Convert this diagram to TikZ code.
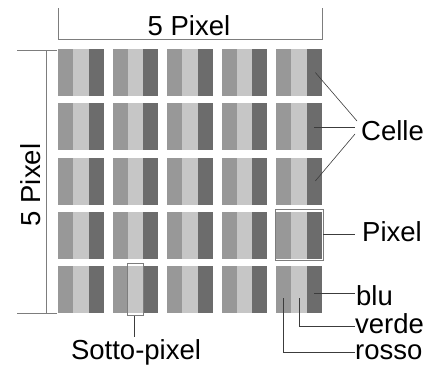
\documentclass[tikz,border=0pt]{standalone}
\usepackage{fontspec}
\setmainfont{Liberation Sans}
\usetikzlibrary{calc}
\definecolor{spred}{RGB}{152,152,152}
\definecolor{spgreen}{RGB}{198,198,198}
\definecolor{spblue}{RGB}{108,108,108}
\definecolor{dimline}{RGB}{125,125,125}
\definecolor{leadline}{RGB}{60,60,60}
\tikzset{
  sub/.style={
    draw=none, inner sep=0pt, outer sep=0pt,
    minimum width=15.33pt, minimum height=47pt
  },
  subr/.style={sub, fill=spred},
  subg/.style={sub, fill=spgreen},
  subb/.style={sub, fill=spblue},
  hibox/.style={draw=dimline, line width=0.7pt, inner sep=0pt, fill=none},
  dim/.style={draw=dimline, line width=0.8pt},
  lead/.style={draw=leadline, line width=0.6pt},
  lbl/.style={font=\fontsize{27.5}{31}\selectfont, inner sep=0pt}
}
\begin{document}
\begin{tikzpicture}[x=1pt, y=-1pt]
  \useasboundingbox (0,0) rectangle (444,367);
  % 5 x 5 pixel, each made of three sub-pixels
  \foreach \i in {0,...,4}{
    \foreach \j in {0,...,4}{
      \node[subr, anchor=north west] (r-\i-\j) at ({58+54.5*\i},{49+54.25*\j}) {};
      \node[subg, anchor=west] (g-\i-\j) at (r-\i-\j.east) {};
      \node[subb, anchor=west] (b-\i-\j) at (g-\i-\j.east) {};
    }
  }
  % dimension lines
  \draw[dim] (58,8) -- (58,40);
  \draw[dim] (322,8) -- (322,40);
  \draw[dim] (58,39) -- (322,39);
  \draw[dim] (17,50) -- (57,50);
  \draw[dim] (17,313) -- (57,313);
  \draw[dim] (46,50) -- (46,313);
  \node[lbl, anchor=base] (wdim) at (189,35) {5 Pixel};
  \node[lbl, anchor=base, rotate=90] (hdim) at (40,185) {5 Pixel};
  % highlighted pixel and sub-pixel
  \node[hibox, minimum width=48pt, minimum height=51pt] (pixbox) at (g-4-3.center) {};
  \node[hibox, minimum width=16.5pt, minimum height=52pt] (sotbox) at (g-1-4.center) {};
  % labels
  \node[lbl, anchor=base west] (celle) at (361,140) {Celle};
  \node[lbl, anchor=base west] (pixel) at (362,241) {Pixel};
  \node[lbl, anchor=base west] (blu) at (356,305) {blu};
  \node[lbl, anchor=base west] (verde) at (355,333) {verde};
  \node[lbl, anchor=base west] (rosso) at (355,359) {rosso};
  \node[lbl, anchor=base] (sotto) at (136,359) {Sotto-pixel};
  \coordinate (celle-a) at (357,121);
  \coordinate (celle-b) at (355,127);
  \coordinate (celle-c) at (355,134);
  \coordinate (pixel-a) at (355,234);
  \coordinate (blu-a) at (355,293);
  \coordinate (verde-a) at (355,326);
  \coordinate (rosso-a) at (355,352);
  \coordinate (sotto-a) at (134,337);
  % leader lines
  \draw[lead] ($(b-4-0.center)+(1,0)$) -- (celle-a);
  \draw[lead] (b-4-1.center |- celle-b) -- (celle-b);
  \draw[lead] ($(b-4-2.center)+(1,0)$) -- (celle-c);
  \draw[lead] (pixbox.east |- pixel-a) -- (pixel-a);
  \draw[lead] (b-4-4.center |- blu-a) -- (blu-a);
  \draw[lead] ($(g-4-4.center)+(0,8.5)$) |- (verde-a);
  \draw[lead] ($(r-4-4.center)+(0,8.5)$) |- (rosso-a);
  \draw[lead] (sotbox.south -| sotto-a) -- (sotto-a);
\end{tikzpicture}
\end{document}
